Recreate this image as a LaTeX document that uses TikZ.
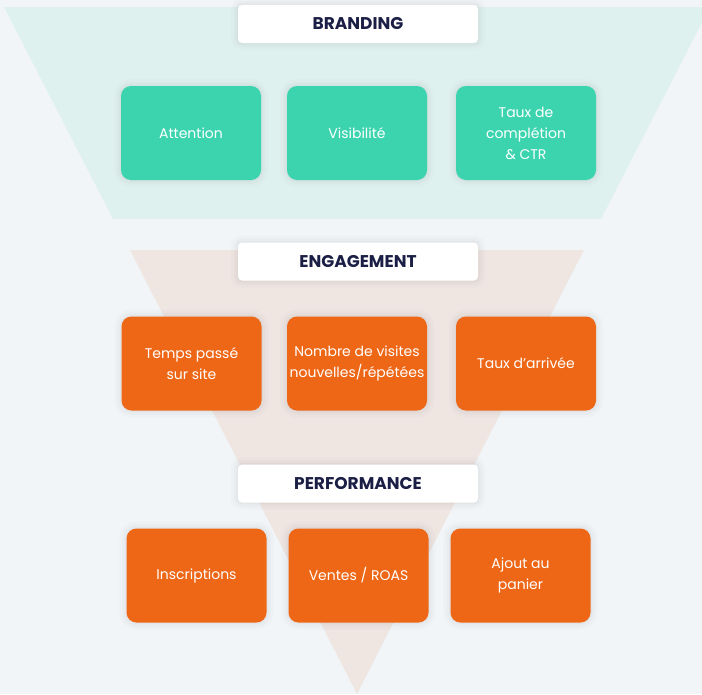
\documentclass[tikz,border=0pt]{standalone}
\usepackage{fontspec}
\setmainfont{Poppins}

\definecolor{pagebg}{HTML}{F1F5F8}
\definecolor{brandzone}{HTML}{DFF1EF}
\definecolor{engagezone}{HTML}{EFE6E2}
\definecolor{brandteal}{HTML}{3CD4AF}
\definecolor{kpiorange}{HTML}{EE6717}
\definecolor{navy}{HTML}{1B1F45}

\begin{document}
\begin{tikzpicture}[x=1pt, y=-1pt,
  softshadow/.style={
    preaction={draw=black!60, draw opacity=0.025, line width=14pt},
    preaction={draw=black!60, draw opacity=0.035, line width=8pt},
    preaction={draw=black!60, draw opacity=0.045, line width=3pt}},
  metric/.style={rounded corners=10pt, minimum width=140pt, minimum height=94pt, align=center, text=white, inner sep=2pt, font=\fontsize{14}{21}\selectfont, softshadow},
  tealbox/.style={metric, fill=brandteal},
  orangebox/.style={metric, fill=kpiorange},
  stage/.style={rounded corners=4pt, fill=white, minimum width=240pt, minimum height=38pt, text=navy, font=\bfseries\fontsize{17}{20}\selectfont, softshadow}
]
\useasboundingbox (0,0) rectangle (702,694);
\clip (0,0) rectangle (702,694);
\fill[pagebg] (0,0) rectangle (702,694);

% funnel zones
\fill[brandzone] (4,7) -- (710,7) -- (601,219) -- (113,219) -- cycle;
\fill[engagezone] (130,250) -- (584,250) -- (357,694) -- cycle;

% stage titles
\node[stage] (brand) at (358,24) {BRANDING};
\node[stage] (engage) at (358,261.5) {ENGAGEMENT};
\node[stage] (perf) at (358,483.5) {PERFORMANCE};

% branding metrics
\node[tealbox] (attention) at (191,133) {Attention};
\node[tealbox] (visib) at (357,133) {Visibilité};
\node[tealbox] (ctr) at (526,133) {Taux de\\complétion\\\& CTR};

% engagement metrics
\node[orangebox] (temps) at (191.5,363.5) {Temps passé\\sur site};
\node[orangebox] (visites) at (357,363.5) {Nombre de visites\\nouvelles/répétées};
\node[orangebox] (arrivee) at (526,363.5) {Taux d’arrivée};

% performance metrics
\node[orangebox] (inscr) at (196.5,575.5) {Inscriptions};
\node[orangebox] (ventes) at (358.5,575.5) {Ventes / ROAS};
\node[orangebox] (panier) at (520.5,575.5) {Ajout au\\panier};
\end{tikzpicture}
\end{document}
